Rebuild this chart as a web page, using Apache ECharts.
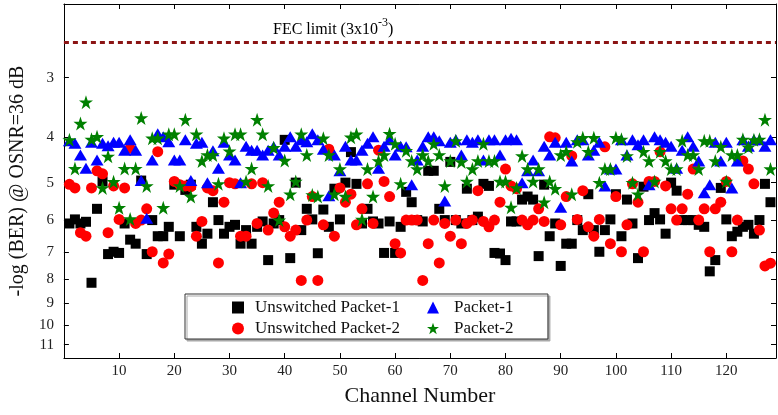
<!DOCTYPE html>
<html>
<head>
<meta charset="utf-8">
<script src="https://cdn.jsdelivr.net/npm/echarts@6/dist/echarts.min.js"></script>
<style>
  html, body { margin: 0; padding: 0; background: #fff; }
  #main { width: 778px; height: 415px; }
</style>
</head>
<body>
<div id="main"></div>
<script>
// -log(BER) per channel, channel 1..128
var unswitched1 = [
  6.1, 5.98, 6.1, 6.05, 8.14, 5.68, 4.97, 7.08, 7.0, 7.04,
  6.1, 6.6, 6.73, 4.95, 7.08, 6.0, 6.49, 6.49, 6.2, 5.05,
  6.49, 5.18, 5.05, 6.2, 6.73, 6.41, 5.5, 6.0, 6.41, 6.2,
  6.14, 6.73, 6.3, 6.73, 6.2, 6.04, 7.29, 6.1, 6.0, 4.06,
  7.22, 5.0, 6.3, 5.68, 5.98, 7.05, 5.7, 6.2, 5.15, 5.98,
  5.0, 4.31, 5.03, 6.1, 5.68, 6.04, 6.1, 7.04, 6.04, 7.04,
  6.2, 5.23, 5.5, 6.0, 6.04, 4.72, 4.72, 5.68, 6.0, 4.52,
  6.0, 6.1, 5.15, 6.0, 5.9, 5.03, 5.08, 7.04, 7.06, 7.29,
  6.04, 6.04, 5.43, 5.35, 5.43, 7.15, 5.05, 6.49, 6.1, 7.5,
  6.73, 6.73, 6.0, 6.3, 5.29, 6.3, 7.0, 6.3, 5.98, 5.29,
  6.49, 5.43, 6.1, 7.22, 5.1, 6.0, 5.8, 5.98, 6.41, 5.0,
  5.2, 6.0, 6.0, 6.0, 6.14, 6.2, 7.7, 7.29, 5.13, 5.98,
  6.49, 6.35, 6.2, 6.14, 6.41, 6.0, 5.03, 5.5
];
var unswitched2 = [
  5.04, 5.13, 6.38, 6.49, 5.13, 4.72, 4.79, 6.38, 5.08, 5.98,
  5.13, 4.23, 6.1, 6.0, 5.68, 7.0, 4.3, 7.39, 7.08, 4.97,
  5.05, 5.08, 5.1, 6.49, 6.04, 5.13, 5.2, 7.39, 5.5, 5.0,
  5.03, 6.49, 6.49, 5.03, 6.1, 5.0, 6.3, 5.8, 5.5, 6.2,
  6.49, 6.3, 8.05, 6.0, 5.35, 8.05, 6.14, 4.25, 6.49, 5.13,
  5.5, 5.29, 6.14, 5.68, 5.03, 6.1, 4.27, 4.97, 5.35, 6.73,
  7.04, 6.0, 6.0, 6.0, 8.05, 6.73, 6.0, 7.39, 6.1, 6.49,
  6.0, 6.73, 6.1, 6.0, 5.2, 6.04, 6.2, 6.0, 5.5, 4.68,
  5.08, 5.15, 6.0, 6.14, 6.0, 5.68, 6.04, 4.0, 4.02, 6.14,
  5.35, 4.39, 5.98, 5.2, 6.2, 6.49, 5.98, 4.2, 6.73, 5.35,
  7.0, 6.14, 5.03, 5.5, 7.0, 4.97, 4.97, 4.3, 5.08, 5.68,
  6.0, 5.68, 5.29, 4.68, 6.0, 5.68, 7.0, 5.68, 5.5, 4.97,
  7.0, 6.0, 4.5, 4.68, 5.03, 6.3, 7.5, 7.4
];
var packet1 = [
  4.08, 4.13, 4.37, 4.66, 4.11, 4.48, 4.13, 4.18, 4.11, 4.11,
  4.27, 4.06, 4.27, 4.95, 5.95, 4.48, 3.94, 4.0, 4.1, 4.48,
  4.48, 4.06, 4.95, 4.13, 4.11, 5.0, 4.28, 4.66, 4.11, 4.37,
  4.48, 5.0, 4.19, 4.27, 4.27, 4.37, 4.27, 4.2, 4.37, 4.19,
  4.0, 4.19, 4.06, 4.1, 3.94, 4.06, 4.25, 5.33, 4.37, 4.72,
  4.19, 4.48, 4.48, 4.27, 4.13, 4.0, 4.66, 4.19, 4.06, 4.37,
  4.19, 4.2, 5.05, 4.48, 4.19, 4.0, 4.0, 4.08, 5.47, 4.11,
  4.06, 4.37, 4.06, 4.11, 4.06, 4.48, 4.06, 4.06, 4.37, 4.06,
  4.03, 4.06, 5.0, 4.72, 4.48, 4.72, 4.19, 4.37, 4.11, 5.64,
  4.11, 4.5, 4.06, 4.06, 4.37, 4.27, 4.11, 5.08, 4.68, 4.68,
  4.06, 4.37, 4.06, 4.16, 4.06, 5.05, 4.0, 4.06, 4.11, 4.19,
  4.66, 4.27, 4.0, 4.19, 4.5, 5.25, 5.05, 4.11, 4.5, 4.11,
  5.13, 4.5, 4.06, 4.19, 4.06, 4.06, 4.19, 4.06
];
var packet2 = [
  4.06, 4.67, 3.75, 3.38, 4.05, 4.0, 5.13, 4.4, 4.98, 5.65,
  4.67, 5.97, 4.67, 3.65, 5.08, 4.03, 4.03, 5.65, 3.95, 3.95,
  5.08, 3.68, 5.35, 3.95, 4.5, 4.37, 4.37, 5.03, 4.03, 4.29,
  3.95, 3.95, 4.97, 4.67, 3.68, 3.95, 5.08, 4.22, 6.0, 4.49,
  5.29, 4.97, 3.95, 4.37, 5.31, 5.35, 4.03, 4.37, 5.29, 4.68,
  5.35, 4.01, 3.95, 5.98, 4.68, 5.35, 4.5, 4.37, 3.94, 4.14,
  5.03, 4.28, 4.5, 4.68, 4.37, 4.5, 4.14, 4.37, 5.08, 4.5,
  4.08, 4.52, 4.97, 4.68, 4.5, 4.14, 4.5, 4.5, 4.97, 4.97,
  5.64, 5.13, 4.39, 4.68, 4.97, 4.68, 5.5, 4.97, 5.15, 4.37,
  4.3, 5.29, 4.1, 4.02, 4.3, 4.02, 5.0, 4.68, 4.68, 4.02,
  4.05, 4.39, 5.0, 5.29, 4.3, 4.5, 4.97, 4.3, 4.5, 4.68,
  4.68, 4.08, 4.37, 4.37, 4.68, 4.08, 4.08, 4.5, 4.2, 4.97,
  4.37, 4.37, 4.05, 4.21, 4.06, 4.05, 3.68, 4.68
];
var seriesNames = ["Unswitched Packet-1", "Packet-1", "Unswitched Packet-2", "Packet-2"];
var xTicks = [10, 20, 30, 40, 50, 60, 70, 80, 90, 100, 110, 120];
var yTicks = [3, 4, 5, 6, 7, 8, 9, 10, 11];
var fecBer = 3e-3;

var serif = "'Liberation Serif', 'DejaVu Serif', serif";
var starPath = "path://M50,2 L61.8,38 L99,38 L69,60.5 L80.5,97 L50,74.5 L19.5,97 L31,60.5 L1,38 L38.2,38 Z";

function toPoints(values) {
  return values.map(function (v, i) {
    return [i + 1, v];
  });
}

var myChart = echarts.init(document.getElementById("main"));

function yAxisBase(pos) {
  return {
    type: "log",
    logBase: 10,
    position: pos,
    inverse: true,
    min: 2.096,
    max: 11.74,
    axisLine: { show: true, onZero: false, lineStyle: { color: "#000", width: 1 } },
    axisTick: {
      show: true,
      inside: true,
      length: 5,
      customValues: yTicks,
      lineStyle: { color: "#000" },
    },
    splitLine: { show: false },
    minorTick: { show: false },
  };
}

var yLeft = yAxisBase("left");
yLeft.name = "-log (BER) @ OSNR=36 dB";
yLeft.nameLocation = "middle";
yLeft.nameGap = 21;
yLeft.nameTextStyle = { fontFamily: serif, fontSize: 20, color: "#111" };
yLeft.axisLabel = {
  customValues: yTicks,
  fontFamily: serif,
  fontSize: 15,
  color: "#222",
  margin: 10,
};
var yRight = yAxisBase("right");
yRight.axisLabel = { show: false };

// two legend columns; the first one carries the framed box
function legendColumn(names, left, top, padding, textPad, boxed) {
  var lg = {
    left: left,
    top: top,
    orient: "vertical",
    padding: padding,
    itemGap: 4,
    itemWidth: 12,
    itemHeight: 12,
    formatter: "{t|{name}}",
    textStyle: {
      fontFamily: serif,
      fontSize: 17,
      color: "#111",
      rich: { t: { fontFamily: serif, fontSize: 17, color: "#111", padding: [0, 0, 0, textPad] } },
    },
    data: names,
  };
  if (boxed) {
    lg.borderColor = "#333";
    lg.borderWidth = 1;
    lg.backgroundColor = "#fff";
    lg.shadowColor = "#a8a8a8";
    lg.shadowOffsetX = 2;
    lg.shadowOffsetY = 2;
    lg.shadowBlur = 0;
  }
  return lg;
}

var option = {
  animation: false,
  backgroundColor: "#fff",
  grid: { left: 53, right: 2, top: 4, bottom: 57, containLabel: false },
  xAxis: [
    {
      type: "value",
      min: 0,
      max: 129,
      interval: 10,
      position: "bottom",
      name: "Channel Number",
      nameLocation: "middle",
      nameGap: 27,
      nameTextStyle: { fontFamily: serif, fontSize: 22, color: "#111" },
      axisLine: { show: true, onZero: false, lineStyle: { color: "#000" } },
      axisTick: { inside: true, length: 5, customValues: xTicks, lineStyle: { color: "#000" } },
      axisLabel: { customValues: xTicks, fontFamily: serif, fontSize: 15, color: "#222", margin: 6 },
      splitLine: { show: false },
    },
    {
      type: "value",
      min: 0,
      max: 129,
      interval: 10,
      position: "top",
      axisLine: { show: true, onZero: false, lineStyle: { color: "#000" } },
      axisTick: { inside: true, length: 5, customValues: xTicks, lineStyle: { color: "#000" } },
      axisLabel: { show: false },
      splitLine: { show: false },
    },
  ],
  yAxis: [yLeft, yRight],
  legend: [
    legendColumn([seriesNames[0], seriesNames[2]], 185, 294, [5, 148, 2, 47], 6, true),
    legendColumn([seriesNames[1], seriesNames[3]], 427, 299, 0, 10, false),
  ],
  graphic: [
    {
      type: "text",
      left: 273,
      top: 17,
      style: {
        text: "{a|FEC limit (3x10}{s|-3}{a|)}",
        rich: {
          a: { fontFamily: serif, fontSize: 16, color: "#222", lineHeight: 21, verticalAlign: "bottom" },
          s: { fontFamily: serif, fontSize: 12, color: "#222", lineHeight: 12, verticalAlign: "top" },
        },
      },
    },
  ],
  series: [
    {
      name: seriesNames[0],
      type: "scatter",
      symbol: "rect",
      symbolSize: 10,
      itemStyle: { color: "#000", opacity: 1 },
      data: toPoints(unswitched1),
      markLine: {
        silent: true,
        symbol: "none",
        label: { show: false },
        lineStyle: { color: "#8b1414", width: 3, type: [5, 4] },
        data: [{ yAxis: -Math.log10(fecBer) }],
      },
    },
    {
      name: seriesNames[2],
      type: "scatter",
      symbol: "circle",
      symbolSize: 11,
      itemStyle: { color: "#ff0000", opacity: 1 },
      data: toPoints(unswitched2),
    },
    {
      name: seriesNames[1],
      type: "scatter",
      symbol: "triangle",
      symbolSize: [13, 11],
      itemStyle: { color: "#0000ff", opacity: 1 },
      data: toPoints(packet1),
    },
    {
      name: seriesNames[3],
      type: "scatter",
      symbol: starPath,
      symbolSize: 14,
      itemStyle: { color: "#008000", opacity: 1 },
      data: toPoints(packet2),
    },
  ],
};

myChart.setOption(option);
window.addEventListener("resize", function () {
  myChart.resize();
});
</script>
</body>
</html>
